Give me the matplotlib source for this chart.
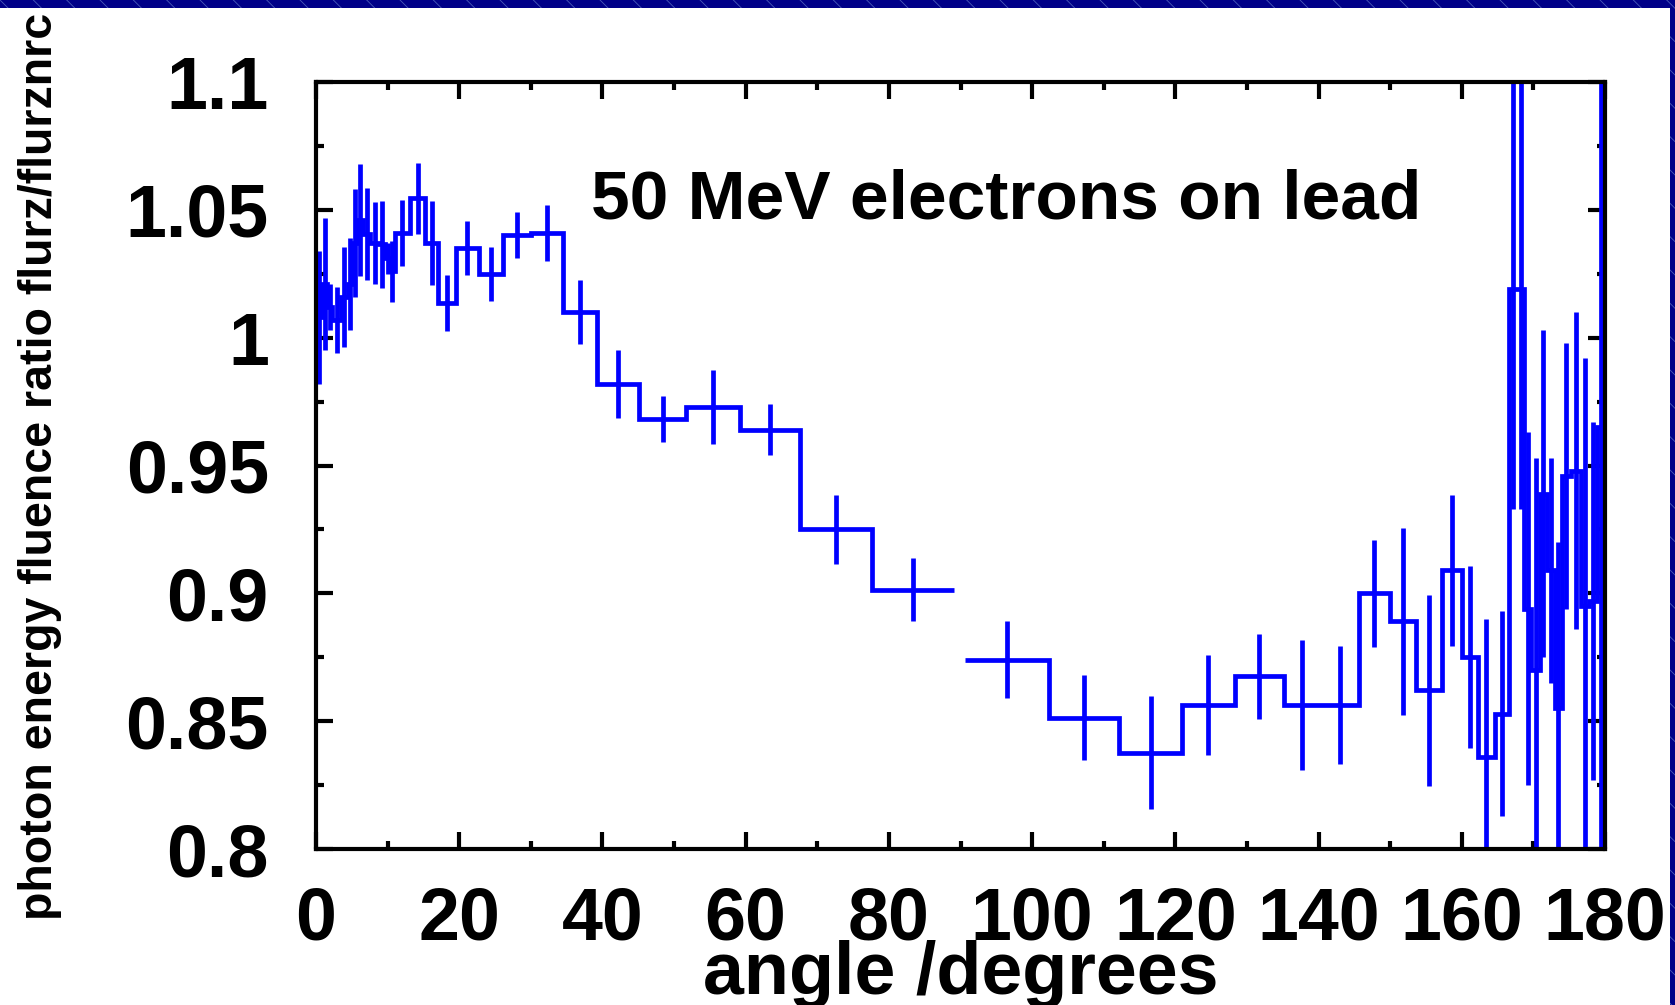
import numpy as np
import matplotlib
matplotlib.use("Agg")
import matplotlib.pyplot as plt
from matplotlib.patches import Rectangle

# angular bins (degrees) and flurz/flurznrc fluence ratio per bin
bin_edges = [0, 0.9, 1.6, 2.3, 3.5, 4.4, 5.1, 5.8, 6.6, 7.6,
             8.8, 9.7, 10.35, 11.0, 13.15, 15.2, 17.1, 19.6, 22.7, 26.1,
             30.0, 34.5, 39.2, 45.15, 51.7, 59.2, 67.6, 77.7, 89.1, 90.6,
             102.3, 112.2, 120.9, 128.3, 135.2, 140.3, 145.6, 150.0, 153.6, 157.2,
             160.0, 162.3, 164.6, 166.6, 167.7, 168.7, 169.7, 170.9, 171.9, 173.0,
             174.0, 175.2, 176.6, 177.7, 178.9, 180.0]

ratio = [1.008, 1.021, 1.012, 1.007, 1.016, 1.021, 1.037, 1.046, 1.0405, 1.037,
         1.0366, 1.031, 1.026, 1.041, 1.0545, 1.037, 1.0135, 1.035, 1.025, 1.040,
         1.041, 1.010, 0.982, 0.968, 0.973, 0.964, 0.925, 0.9015, np.nan, 0.874,
         0.8514, 0.8377, 0.8564, 0.8675, 0.8564, 0.8564, 0.900, 0.889, 0.862, 0.909,
         0.875, 0.836, 0.853, 1.019, 1.019, 0.894, 0.870, 0.939, 0.909, 0.855,
         0.946, 0.948, 0.895, 0.897, 0.965]

ratio_err = [0.026, 0.026, 0.009, 0.013, 0.0195, 0.018, 0.021, 0.022, 0.018, 0.016,
             0.017, 0.006, 0.012, 0.013, 0.014, 0.0165, 0.011, 0.0105, 0.0105, 0.009,
             0.011, 0.0125, 0.0133, 0.009, 0.0145, 0.010, 0.0135, 0.0125, np.nan, 0.015,
             0.0165, 0.022, 0.0195, 0.0165, 0.0255, 0.023, 0.021, 0.0365, 0.0375, 0.0295,
             0.0355, 0.054, 0.040, 0.086, 0.086, 0.069, 0.083, 0.064, 0.044, 0.065,
             0.052, 0.062, 0.097, 0.070, 0.170]

x_ticks = [0, 20, 40, 60, 80, 100, 120, 140, 160, 180]
x_ticklabels = ["0", "20", "40", "60", "80", "100", "120", "140", "160", "180"]
y_ticks = [0.8, 0.85, 0.9, 0.95, 1.0, 1.05, 1.1]
y_ticklabels = ["0.8", "0.85", "0.9", "0.95", "1", "1.05", "1.1"]

titulo = "50 MeV electrons on lead"
eixox = "angle /degrees"
eixoy = "photon energy fluence ratio flurz/flurznrc"

plt.rcParams["font.family"] = ["Liberation Sans", "DejaVu Sans"]
plt.rcParams["font.weight"] = "bold"
plt.rcParams["hatch.linewidth"] = 0.6

azul = "#0000ff"

fig = plt.figure(figsize=(16.75, 10.05), dpi=100)
fig.patch.set_facecolor("white")
ax = fig.add_axes([0.18866, 0.15522, 0.76955, 0.76318])

edges = np.array(bin_edges)
vals = np.array(ratio)
errs = np.array(ratio_err)
centros = 0.5 * (edges[:-1] + edges[1:])

# histograma em degraus
ax.plot(edges, np.append(vals, vals[-1]), drawstyle="steps-post",
        color=azul, lw=3.4, solid_capstyle="butt", solid_joinstyle="miter")
# barras de erro no centro de cada bin
ax.errorbar(centros, vals, yerr=errs, fmt="none", ecolor=azul,
            elinewidth=3.4, capsize=0)

ax.set_xlim(0, 180)
ax.set_ylim(0.8, 1.1)
ax.set_xticks(x_ticks)
ax.set_xticklabels(x_ticklabels)
ax.set_yticks(y_ticks)
ax.set_yticklabels(y_ticklabels)
ax.set_xticks(np.arange(10, 180, 20), minor=True)
ax.set_yticks([0.825, 0.875, 0.925, 0.975, 1.025, 1.075], minor=True)

ax.tick_params(which="both", direction="in", top=True, right=True, width=3)
ax.tick_params(which="major", length=12)
ax.tick_params(which="minor", length=6)
ax.tick_params(axis="x", which="major", labelsize=53, pad=26)
ax.tick_params(axis="y", which="major", labelsize=53, pad=34)
for lab in ax.get_xticklabels() + ax.get_yticklabels():
    lab.set_fontweight("bold")
for s in ax.spines.values():
    s.set_linewidth(3)

ax.text(0.2134, 0.822, titulo, transform=ax.transAxes, fontsize=50,
        fontweight="bold", ha="left", va="baseline")

fig.text(0.5735, 0.011, eixox, fontsize=53, fontweight="bold",
         ha="center", va="baseline")
fig.text(0.0239, 0.536, eixoy, fontsize=33.5, fontweight="bold",
         rotation=90, ha="center", va="center")

# moldura azul do slide (topo e lado direito)
fig.patches.append(Rectangle((0, 1 - 8 / 1005), 1, 8 / 1005, transform=fig.transFigure,
                             facecolor="#000088", edgecolor="#4a5ab8", hatch="\\",
                             lw=0, zorder=10))
fig.patches.append(Rectangle((1 - 5 / 1675, 0), 5 / 1675, 1, transform=fig.transFigure,
                             facecolor="#000088", edgecolor="#4a5ab8", hatch="\\",
                             lw=0, zorder=10))

plt.savefig("out.png", dpi=100)
